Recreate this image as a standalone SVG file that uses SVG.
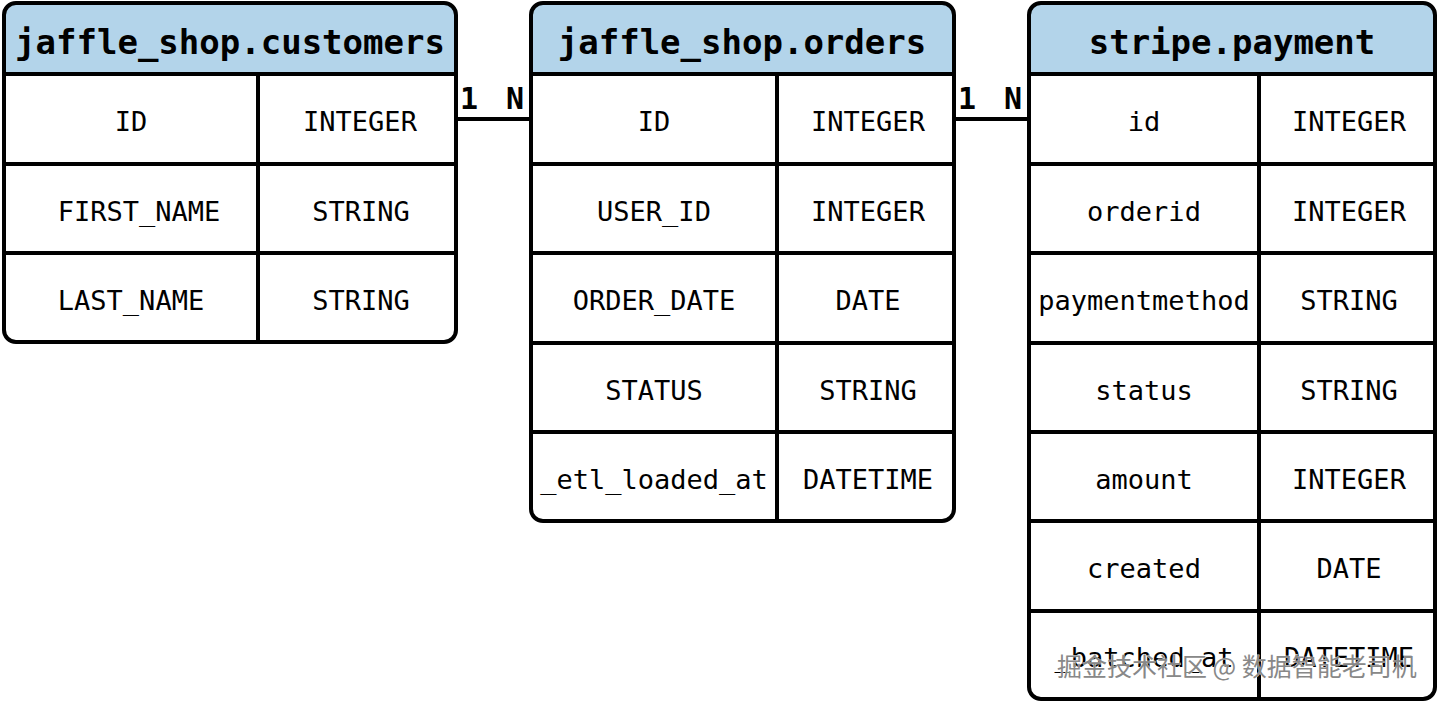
<svg xmlns="http://www.w3.org/2000/svg" width="1439" height="703" viewBox="0 0 1439 703">
<style>
.hdr{fill:#b3d4ea}
.frame{fill:none;stroke:#000;stroke-width:4}
.ln{stroke:#000;stroke-width:4;fill:none}
.title{font-family:"DejaVu Sans Mono","Liberation Mono",monospace;font-weight:bold;font-size:34px;text-anchor:middle}
.cell{font-family:"DejaVu Sans Mono","Liberation Mono",monospace;font-size:27px;text-anchor:middle}
.card{font-family:"DejaVu Sans Mono","Liberation Mono",monospace;font-weight:bold;font-size:30px;text-anchor:middle}
.wm{font-family:"Noto Sans CJK SC",sans-serif;font-size:25px;fill:#888;stroke:#fff;stroke-width:0.6;paint-order:stroke}
</style>
<rect width="1439" height="703" fill="#fff"/>
<g id="connectors">
<line class="ln" x1="456" y1="119" x2="531" y2="119"/>
<text class="card" x="469" y="109">1</text>
<text class="card" x="515" y="109">N</text>
<line class="ln" x1="954" y1="119" x2="1029" y2="119"/>
<text class="card" x="967" y="109">1</text>
<text class="card" x="1013" y="109">N</text>
</g>
<g id="customers">
<path class="hdr" d="M4,74 V15 A12,12 0 0 1 16,3 H444 A12,12 0 0 1 456,15 V74 Z"/>
<rect class="frame" x="4" y="3" width="452" height="339" rx="12"/>
<path class="ln" d="M4,74 H456 M4,164 H456 M4,253 H456 M258,74 V342"/>
<text class="title" x="230" y="54">jaffle_shop.customers</text>
<text class="cell" x="131" y="131">ID</text><text class="cell" x="360" y="131">INTEGER</text>
<text class="cell" x="139" y="221">FIRST_NAME</text><text class="cell" x="361" y="221">STRING</text>
<text class="cell" x="131" y="310">LAST_NAME</text><text class="cell" x="361" y="310">STRING</text>
</g>
<g id="orders">
<path class="hdr" d="M531,74 V15 A12,12 0 0 1 543,3 H942 A12,12 0 0 1 954,15 V74 Z"/>
<rect class="frame" x="531" y="3" width="423" height="518" rx="12"/>
<path class="ln" d="M531,74 H954 M531,164 H954 M531,253 H954 M531,343 H954 M531,432 H954 M777,74 V521"/>
<text class="title" x="742" y="54">jaffle_shop.orders</text>
<text class="cell" x="654" y="131">ID</text><text class="cell" x="868" y="131">INTEGER</text>
<text class="cell" x="654" y="221">USER_ID</text><text class="cell" x="868" y="221">INTEGER</text>
<text class="cell" x="654" y="310">ORDER_DATE</text><text class="cell" x="868" y="310">DATE</text>
<text class="cell" x="654" y="400">STATUS</text><text class="cell" x="868" y="400">STRING</text>
<text class="cell" x="654" y="489">_etl_loaded_at</text><text class="cell" x="868" y="489">DATETIME</text>
</g>
<g id="payment">
<path class="hdr" d="M1029,74 V15 A12,12 0 0 1 1041,3 H1423 A12,12 0 0 1 1435,15 V74 Z"/>
<rect class="frame" x="1029" y="3" width="406" height="696" rx="12"/>
<path class="ln" d="M1029,74 H1435 M1029,164 H1435 M1029,253 H1435 M1029,343 H1435 M1029,432 H1435 M1029,521 H1435 M1029,611 H1435 M1259,74 V699"/>
<text class="title" x="1232" y="54">stripe.payment</text>
<text class="cell" x="1144" y="131">id</text><text class="cell" x="1349" y="131">INTEGER</text>
<text class="cell" x="1144" y="221">orderid</text><text class="cell" x="1349" y="221">INTEGER</text>
<text class="cell" x="1144" y="310">paymentmethod</text><text class="cell" x="1349" y="310">STRING</text>
<text class="cell" x="1144" y="400">status</text><text class="cell" x="1349" y="400">STRING</text>
<text class="cell" x="1144" y="489">amount</text><text class="cell" x="1349" y="489">INTEGER</text>
<text class="cell" x="1144" y="578">created</text><text class="cell" x="1349" y="578">DATE</text>
<text class="cell" x="1144" y="667">_batched_at</text><text class="cell" x="1349" y="667">DATETIME</text>
</g>
<text class="wm" x="1057" y="676">掘金技术社区 @ 数据智能老司机</text>
</svg>
